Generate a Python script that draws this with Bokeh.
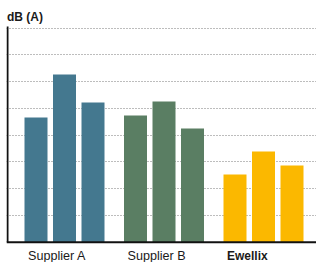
from bokeh.plotting import figure
from bokeh.models import ColumnDataSource, Range1d, Grid, FixedTicker, Span
from bokeh.core.properties import value
from bokeh.embed import file_html
from bokeh.resources import INLINE

# ---- data (in grid units) ----
categories = ["Supplier A", "Supplier B", "Ewellix"]
series_1 = [4.66, 4.74, 2.53]
series_2 = [6.27, 5.26, 3.39]
series_3 = [5.22, 4.25, 2.87]
group_colors = ["#44788f", "#5a7e63", "#fbb800"]
bold_category = "Ewellix"
y_title = "dB (A)"
grid_ticks = [1, 2, 3, 4, 5, 6, 7, 8]

# ---- layout (canvas pixels) ----
W, H = 316, 262
left_px = 6
base_px = 241.75         # canvas y of value 0
top_px = 27.7            # canvas y of top grid line
ppu = (base_px - top_px) / max(grid_ticks)
y_start = -(H - base_px) / ppu
y_end = base_px / ppu

first_center = 35.5
bar_step = 28.5
group_step = 99.5
bar_w = 23
label_dx = 3.5

p = figure(width=W, height=H, x_range=Range1d(left_px, W), y_range=Range1d(y_start, y_end),
           output_backend="svg", toolbar_location=None, tools="",
           x_axis_location=None, y_axis_location=None, min_border=0,
           min_border_left=left_px,
           outline_line_color=None, background_fill_color="white",
           border_fill_color="white")
p.center = []

grid = Grid(dimension=1, ticker=FixedTicker(ticks=grid_ticks),
            grid_line_color="#7a7a7a", grid_line_dash="1 2", grid_line_width=1)
p.add_layout(grid)

series = [series_1, series_2, series_3]
xs, tops, cols = [], [], []
for g, cat in enumerate(categories):
    for s, ser in enumerate(series):
        xs.append(first_center + g * group_step + s * bar_step)
        tops.append(ser[g])
        cols.append(group_colors[g])
bars = ColumnDataSource(dict(x=xs, top=tops, color=cols))
p.vbar(x="x", top="top", bottom=0, width=bar_w, fill_color="color",
       line_color=None, source=bars)

# axes lines
p.add_layout(Span(location=0, dimension="width", line_color="#111111", line_width=2))
p.segment(x0=[7], y0=[0], x1=[7], y1=[(base_px - 26) / ppu],
          line_color="#111111", line_width=2)

# category labels
lab = ColumnDataSource(dict(
    x=[first_center - bar_w / 2 + g * group_step + label_dx for g in range(len(categories))],
    y=[-(13.8) / ppu] * len(categories),
    text=categories,
    style=["bold" if c == bold_category else "normal" for c in categories],
    size=["12px" if c == bold_category else "12.6px" for c in categories],
))
p.text(x="x", y="y", text="text", source=lab, text_font=value("Liberation Sans"),
       text_font_size="size", text_font_style="style",
       text_align="left", text_baseline="alphabetic", text_color="#1a1a1a")

# y title
p.text(x=[6.5], y=[(base_px - 16.5) / ppu], text=[y_title], text_font=value("Liberation Sans"),
       text_font_size=value("12px"), text_font_style="bold",
       text_align="left", text_baseline="alphabetic", text_color="#1a1a1a")

open("out.html", "w").write(file_html(p, INLINE))
